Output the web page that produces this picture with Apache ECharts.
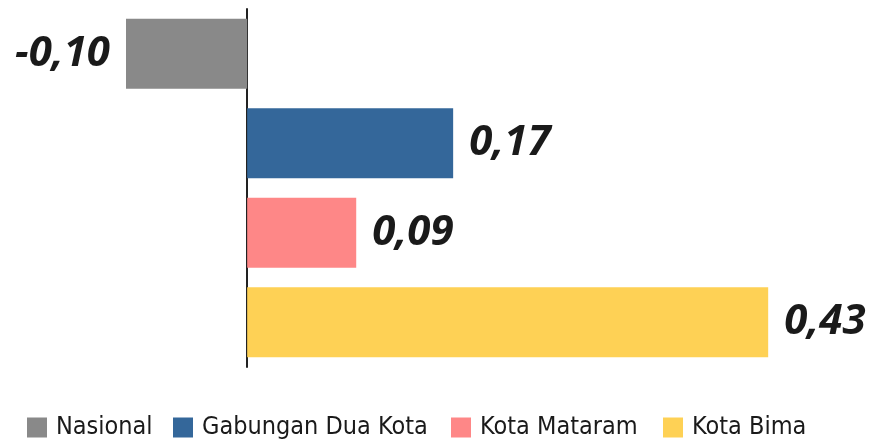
<!DOCTYPE html>
<html>
<head>
<meta charset="utf-8">
<script src="https://cdn.jsdelivr.net/npm/echarts@6/dist/echarts.min.js"></script>
<style>
html, body { margin: 0; padding: 0; background: #fff; }
#chart { width: 871px; height: 446px; }
</style>
</head>
<body>
<div id="chart"></div>
<script type="text/javascript">
var categories = ['Nasional', 'Gabungan Dua Kota', 'Kota Mataram', 'Kota Bima'];
var values = [-0.10, 0.17, 0.09, 0.43];
var colors = ['#898989', '#34679a', '#fe8787', '#fed155'];
var legendLeft = [27, 173, 451, 663];

var condensed = "'Liberation Sans Narrow', 'DejaVu Sans Condensed', sans-serif";

var series = [];
var legends = [];
for (var i = 0; i < categories.length; i++) {
    var data = [];
    for (var j = 0; j < categories.length; j++) {
        data.push(j === i ? values[i] : '-');
    }
    series.push({
        name: categories[i],
        type: 'bar',
        stack: 'all',
        barWidth: 70,
        itemStyle: { color: colors[i] },
        label: {
            show: true,
            position: values[i] < 0 ? 'left' : 'right',
            distance: 16,
            color: '#1a1a1a',
            fontFamily: "'Open Sans', 'Liberation Sans', sans-serif",
            fontWeight: 'bold',
            fontStyle: 'italic',
            fontSize: 42,
            formatter: function (p) {
                return p.value.toFixed(2).replace('.', ',');
            }
        },
        data: data
    });
    // one legend per item so the icons sit where the reference has them
    legends.push({
        data: [categories[i]],
        left: legendLeft[i],
        top: 415,
        padding: 0,
        itemWidth: 20,
        itemHeight: 20,
        icon: 'rect',
        textStyle: {
            fontFamily: condensed,
            fontSize: 25,
            color: '#1a1a1a',
            padding: [0, 0, 0, 4]
        }
    });
}

var option = {
    animation: false,
    grid: { left: 126, right: 18, top: 9, bottom: 79 },
    legend: legends,
    xAxis: {
        type: 'value',
        min: -0.1,
        max: 0.5,
        show: false
    },
    yAxis: {
        type: 'category',
        inverse: true,
        data: categories,
        axisLine: { show: true, onZero: true, lineStyle: { color: '#222', width: 2 } },
        axisTick: { show: false },
        axisLabel: { show: false }
    },
    series: series
};

var charts = echarts.init(document.getElementById('chart'));
charts.setOption(option);
</script>
</body>
</html>
